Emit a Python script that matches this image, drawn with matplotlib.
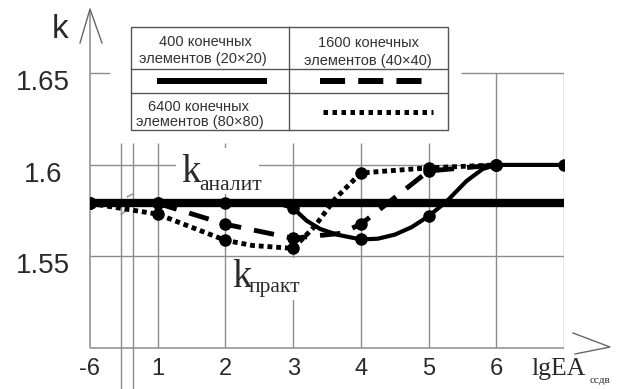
import matplotlib
matplotlib.use("Agg")
import matplotlib.pyplot as plt
from matplotlib.patches import Rectangle
from matplotlib.transforms import ScaledTranslation

# ---- data -------------------------------------------------------------
x_ticks = [0, 1, 2, 3, 4, 5, 6]
x_tick_labels = ["-6", "1", "2", "3", "4", "5", "6"]
y_ticks = [1.55, 1.6, 1.65]
y_tick_labels = ["1.55", "1.6", "1.65"]

# analytic value of k
k_analit = 1.579
k_analit_x = [0, 7]

# 400 finite elements (20x20)
fe400_x = [0, 1, 2, 2.8, 3, 3.2, 3.4, 3.65, 4, 4.25, 4.5, 4.75, 5, 5.27,
           5.56, 5.8, 6, 7]
fe400_y = [1.579, 1.579, 1.579, 1.5787, 1.5764, 1.5695, 1.5650, 1.5619,
           1.5593, 1.5597, 1.5619, 1.5660, 1.572, 1.5802, 1.5912, 1.5978,
           1.600, 1.600]

# 1600 finite elements (40x40)
fe1600_x = [0, 1, 2, 3, 3.4, 3.7, 4, 5, 6]
fe1600_y = [1.579, 1.579, 1.5676, 1.5599, 1.5615, 1.5626, 1.5676, 1.5967, 1.600]

# 6400 finite elements (80x80)
fe6400_x = [0, 1, 2, 2.4, 3, 3.32, 3.62, 4, 5, 6]
fe6400_y = [1.579, 1.5731, 1.5588, 1.556, 1.5544, 1.5665, 1.5815, 1.5956,
            1.5984, 1.600]

# ---- styling ----------------------------------------------------------
W, H, DPI = 627, 389, 100
GRID = "#8c8c8c"
INK = "#000000"
TXT = "#2a2a2a"
SANS = "Liberation Sans"
SERIF = "Liberation Serif"

fig = plt.figure(figsize=(W / DPI, H / DPI), dpi=DPI)
fig.patch.set_facecolor("white")

# main plotting area: x index 0..7, k from 1.5 up to the arrow tip
ax = fig.add_axes([90 / W, 41 / H, 474 / W, 338.7 / H])
ax.set_xlim(0, 7)
ax.set_ylim(1.5, 1.685)
ax.set_facecolor("none")
for sp in ax.spines.values():
    sp.set_visible(False)

ax.set_xticks(x_ticks, x_tick_labels, fontsize=17, family=SANS, color=TXT)
ax.set_yticks(y_ticks, y_tick_labels, fontsize=20, family=SANS, color=TXT)
ax.tick_params(axis="x", length=0, pad=7)
ax.tick_params(axis="y", length=0, pad=34)
for lab in ax.get_yticklabels():
    lab.set_horizontalalignment("center")
    lab.set_transform(lab.get_transform() +
                      ScaledTranslation(0, -5 / 72, fig.dpi_scale_trans))

# grid
gkw = dict(color=GRID, lw=1.0, zorder=1)
ax.hlines(1.55, 0, 7, **gkw)
ax.hlines(1.6, 0, 7, **gkw)
ax.hlines(1.65, 0, 0.3, **gkw)
ax.hlines(1.65, 5.48, 7, **gkw)
ax.vlines([1, 2, 3, 4, 5], 1.5, 1.612, **gkw)
ax.vlines([6, 7], 1.5, 1.65, **gkw)
# axes lines
ax.vlines(0, 1.5, 1.685, color=GRID, lw=1.1, zorder=1, clip_on=False)
ax.hlines(1.5, 0, 7, color=GRID, lw=1.1, zorder=1, clip_on=False)
# axis break between -6 and 1
ax.vlines([0.46, 0.64], 1.4775, 1.612, color=GRID, lw=1.0, zorder=1,
          clip_on=False)
ax.plot([0.55, 0.64], [1.5826, 1.5842], color=GRID, lw=1.0, zorder=1)
ax.plot([0.46, 0.54], [1.5730, 1.5752], color=GRID, lw=1.0, zorder=1)

# analytic line
ax.plot(k_analit_x, [k_analit, k_analit], color=INK, lw=6,
        solid_capstyle="butt", zorder=2)


def marks(xs):
    return [i for i, v in enumerate(xs) if float(v).is_integer()]


ax.plot(fe400_x, fe400_y, color=INK, lw=3, marker="o", ms=8,
        markevery=marks(fe400_x), zorder=3, solid_joinstyle="round")
ax.plot(fe1600_x, fe1600_y, color=INK, lw=3.5, ls=(0, (4.2, 2.7)),
        dash_capstyle="butt", marker="o", ms=8,
        markevery=marks(fe1600_x), zorder=3)
ax.plot(fe6400_x, fe6400_y, color=INK, lw=3.5, ls=(0, (1.0, 0.8)),
        dash_capstyle="butt", marker="o", ms=8,
        markevery=marks(fe6400_x), zorder=3)

# ---- overlay in pixel coordinates for annotations --------------------
ov = fig.add_axes([0, 0, 1, 1], zorder=5)
ov.set_xlim(0, W)
ov.set_ylim(H, 0)
ov.axis("off")
ov.set_facecolor("none")

# arrows of the axes
ov.plot([80, 90, 102], [43, 9, 43], color="#666666", lw=1.0)
ov.plot([573, 610, 575], [333, 347, 354], color="#666666", lw=1.0)

# axis titles
ov.text(52, 38, "k", fontsize=24, family=SANS, color=TXT, va="baseline")
ov.text(532, 375, "lgEA", fontsize=18.5, family=SERIF, color=TXT,
        va="baseline")
ov.text(590, 383, "ссдв", fontsize=8, family=SERIF, color=TXT,
        va="baseline")

# curve labels with a white backing that interrupts the grid
ov.add_patch(Rectangle((176, 148), 83, 46, facecolor="white",
                       edgecolor="none", zorder=1))
ov.add_patch(Rectangle((229, 258), 70, 42, facecolor="white",
                       edgecolor="none", zorder=1))
ov.text(181, 182, "k", fontsize=28, family=SERIF, color=TXT,
        va="baseline", zorder=2)
ov.text(199, 190, "аналит", fontsize=15.5, family=SERIF, color=TXT,
        va="baseline", zorder=2)
ov.text(232, 287, "k", fontsize=28, family=SERIF, color=TXT,
        va="baseline", zorder=2)
ov.text(249, 292, "практ", fontsize=15.5, family=SERIF, color=TXT,
        va="baseline", zorder=2)

# legend table
TB = "#555555"
ov.add_patch(Rectangle((131, 27), 317, 103, facecolor="white",
                       edgecolor=TB, lw=1.0, zorder=1))
ov.plot([289, 289], [27, 130], color=TB, lw=1.0, zorder=2)
ov.plot([131, 448], [69, 69], color=TB, lw=1.0, zorder=2)
ov.plot([131, 448], [93, 93], color=TB, lw=1.0, zorder=2)

tkw = dict(fontsize=10.5, family=SANS, color="#333333", ha="center",
           va="center", zorder=3)
ov.text(205, 42, "400 конечных", **tkw)
ov.text(203, 59, "элементов (20×20)", **tkw)
ov.text(369, 43, "1600 конечных", **tkw)
ov.text(368, 61, "элементов (40×40)", **tkw)
ov.text(199, 107, "6400 конечных", **tkw)
ov.text(200, 122, "элементов (80×80)", **tkw)

ov.plot([157, 267], [81, 81], color=INK, lw=4.3, solid_capstyle="butt",
        zorder=3)
ov.plot([320, 423], [81, 81], color=INK, lw=4.3, ls=(0, (4.2, 2.2)),
        dash_capstyle="butt", zorder=3)
ov.plot([323, 433], [112, 112], color=INK, lw=3.6, ls=(0, (0.9, 0.9)),
        dash_capstyle="butt", zorder=3)

fig.savefig("out.png", dpi=DPI, facecolor="white")
